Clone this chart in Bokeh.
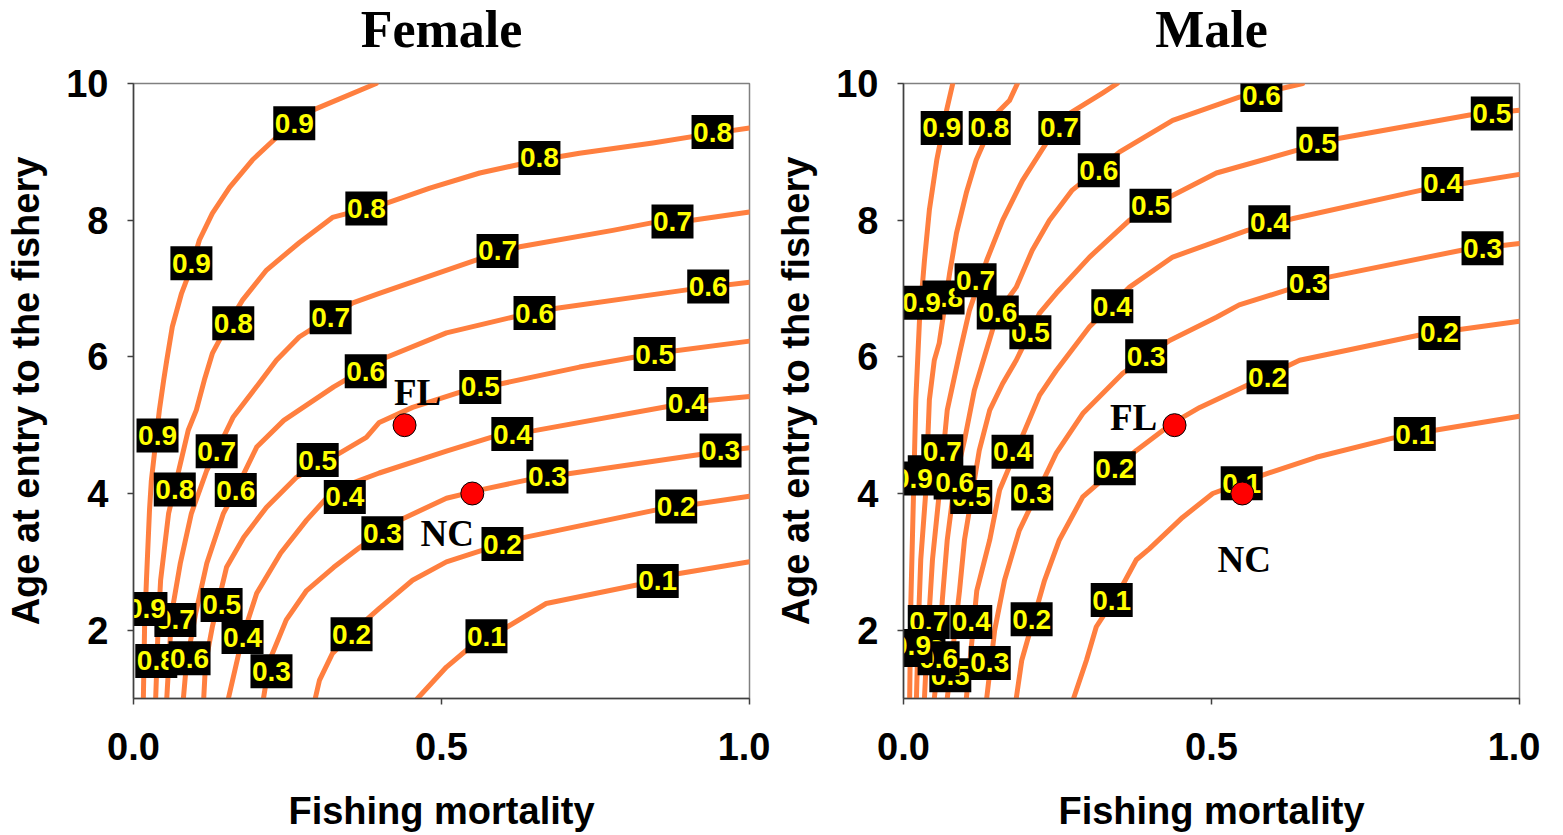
from bokeh.plotting import figure
from bokeh.layouts import row
from bokeh.models import ColumnDataSource, FixedTicker, NumeralTickFormatter, Range1d, Title
from bokeh.core.properties import value
from bokeh.embed import file_html
from bokeh.resources import INLINE

# ---------------- data: Female contour lines (F = fishing mortality, A = age at entry)
female_09_F = [0.394, 0.291, 0.232, 0.193, 0.156, 0.128, 0.107, 0.094, 0.078, 0.063, 0.054, 0.049, 0.042, 0.034, 0.029, 0.026, 0.021, 0.018, 0.016]
female_09_A = [10.0, 9.61, 9.21, 8.88, 8.48, 8.10, 7.71, 7.31, 6.93, 6.44, 5.95, 5.66, 5.22, 4.59, 4.19, 3.76, 2.73, 2.05, 1.0]
female_08_F = [1.0, 0.940, 0.843, 0.724, 0.659, 0.562, 0.481, 0.411, 0.323, 0.269, 0.216, 0.177, 0.151, 0.128, 0.115, 0.102, 0.089, 0.057, 0.044, 0.040, 0.036]
female_08_A = [9.35, 9.27, 9.13, 8.98, 8.88, 8.69, 8.47, 8.25, 8.04, 7.67, 7.27, 6.83, 6.44, 6.05, 5.66, 5.22, 4.93, 3.71, 2.73, 2.05, 1.0]
female_07_F = [1.0, 0.907, 0.841, 0.778, 0.627, 0.557, 0.399, 0.356, 0.269, 0.232, 0.208, 0.162, 0.135, 0.119, 0.094, 0.076, 0.062, 0.054]
female_07_A = [8.12, 8.00, 7.96, 7.85, 7.61, 7.42, 6.93, 6.79, 6.29, 5.95, 5.66, 5.12, 4.62, 4.34, 3.71, 2.98, 2.25, 1.0]
female_06_F = [1.0, 0.933, 0.898, 0.687, 0.615, 0.508, 0.399, 0.325, 0.244, 0.200, 0.166, 0.146, 0.119, 0.101, 0.086, 0.081]
female_06_A = [7.09, 7.02, 6.98, 6.71, 6.58, 6.35, 5.95, 5.56, 5.07, 4.68, 4.05, 3.71, 2.98, 2.25, 1.52, 1.0]
female_05_F = [1.0, 0.846, 0.724, 0.599, 0.529, 0.453, 0.399, 0.378, 0.323, 0.265, 0.216, 0.179, 0.151, 0.128, 0.117, 0.114]
female_05_A = [6.23, 6.05, 5.85, 5.61, 5.48, 5.26, 5.04, 4.82, 4.53, 4.24, 3.80, 3.36, 2.92, 2.05, 1.52, 1.0]
female_04_F = [1.0, 0.932, 0.865, 0.651, 0.583, 0.508, 0.399, 0.325, 0.281, 0.239, 0.200, 0.177, 0.154]
female_04_A = [5.42, 5.36, 5.27, 4.92, 4.83, 4.62, 4.30, 4.05, 3.61, 3.13, 2.54, 1.90, 1.0]
female_03_F = [1.0, 0.964, 0.753, 0.640, 0.567, 0.549, 0.508, 0.432, 0.367, 0.325, 0.281, 0.248, 0.221, 0.211]
female_03_A = [4.67, 4.63, 4.35, 4.20, 4.06, 4.02, 3.93, 3.61, 3.21, 2.92, 2.58, 2.15, 1.56, 1.0]
female_02_F = [1.0, 0.849, 0.631, 0.567, 0.508, 0.453, 0.399, 0.378, 0.323, 0.302, 0.295]
female_02_A = [3.96, 3.76, 3.35, 3.17, 3.00, 2.73, 2.32, 2.15, 1.66, 1.27, 1.0]
female_01_F = [1.0, 0.886, 0.817, 0.670, 0.607, 0.541, 0.508, 0.461]
female_01_A = [3.0, 2.83, 2.66, 2.39, 2.05, 1.71, 1.46, 1.0]

female_label_F = [0.261, 0.094, 0.039, 0.021,
                  0.940, 0.659, 0.378, 0.162, 0.067, 0.037,
                  0.875, 0.591, 0.320, 0.135, 0.068,
                  0.933, 0.651, 0.377, 0.166, 0.091,
                  0.846, 0.563, 0.299, 0.143,
                  0.899, 0.615, 0.343, 0.177,
                  0.953, 0.672, 0.404, 0.224,
                  0.881, 0.599, 0.354,
                  0.851, 0.573]
female_label_A = [9.42, 7.37, 4.85, 2.31,
                  9.29, 8.91, 8.17, 6.49, 4.06, 1.55,
                  7.98, 7.55, 6.58, 4.62, 2.15,
                  7.03, 6.64, 5.79, 4.05, 1.59,
                  6.04, 5.56, 4.49, 2.37,
                  5.31, 4.87, 3.95, 1.90,
                  4.63, 4.25, 3.42, 1.40,
                  3.81, 3.26, 1.94,
                  2.72, 1.91]
female_label_text = ["0.9"] * 4 + ["0.8"] * 6 + ["0.7"] * 5 + ["0.6"] * 5 + ["0.5"] * 4 + \
                    ["0.4"] * 4 + ["0.3"] * 4 + ["0.2"] * 3 + ["0.1"] * 2

# ---------------- data: Male contour lines
male_09_F = [0.080, 0.070, 0.054, 0.042, 0.034, 0.026, 0.020, 0.016, 0.012, 0.010]
male_09_A = [10.0, 9.61, 8.88, 8.15, 7.41, 6.54, 5.37, 3.90, 2.44, 1.0]
male_08_F = [0.185, 0.172, 0.151, 0.118, 0.102, 0.086, 0.075, 0.058, 0.050, 0.042, 0.036, 0.028, 0.024, 0.021]
male_08_A = [10.0, 9.75, 9.56, 8.88, 8.40, 7.81, 7.23, 6.20, 5.95, 5.37, 4.00, 3.03, 2.05, 1.0]
male_07_F = [0.347, 0.323, 0.269, 0.232, 0.193, 0.161, 0.135, 0.107, 0.091, 0.071, 0.058, 0.047, 0.037, 0.034]
male_07_A = [10.0, 9.86, 9.56, 9.13, 8.58, 8.00, 7.41, 6.68, 6.05, 5.22, 4.00, 3.03, 1.56, 1.0]
male_06_F = [0.648, 0.615, 0.545, 0.437, 0.351, 0.274, 0.237, 0.209, 0.183, 0.153, 0.115, 0.099, 0.083, 0.071, 0.063, 0.057, 0.050]
male_06_A = [10.0, 9.93, 9.80, 9.46, 9.00, 8.44, 8.00, 7.56, 7.02, 6.65, 5.51, 4.78, 4.16, 3.32, 2.44, 1.59, 1.0]
male_05_F = [1.0, 0.919, 0.708, 0.638, 0.508, 0.432, 0.367, 0.302, 0.248, 0.221, 0.183, 0.161, 0.140, 0.123, 0.099, 0.091, 0.071]
male_05_A = [9.61, 9.54, 9.20, 9.02, 8.69, 8.34, 8.00, 7.46, 6.93, 6.64, 5.95, 5.61, 5.22, 4.63, 3.32, 2.58, 1.0]
male_04_F = [1.0, 0.911, 0.841, 0.631, 0.558, 0.437, 0.367, 0.302, 0.248, 0.221, 0.156, 0.140, 0.119, 0.102]
male_04_A = [8.67, 8.54, 8.44, 8.02, 7.85, 7.46, 7.02, 6.44, 5.80, 5.44, 4.05, 3.32, 2.58, 1.0]
male_03_F = [1.0, 0.906, 0.692, 0.623, 0.545, 0.508, 0.432, 0.356, 0.291, 0.248, 0.188, 0.164, 0.148, 0.135]
male_03_A = [7.66, 7.56, 7.17, 6.98, 6.76, 6.58, 6.24, 5.76, 5.17, 4.59, 3.46, 2.73, 2.00, 1.0]
male_02_F = [1.0, 0.838, 0.643, 0.557, 0.481, 0.437, 0.378, 0.291, 0.253, 0.229, 0.192, 0.183]
male_02_A = [6.52, 6.32, 5.95, 5.58, 5.26, 5.03, 4.63, 3.95, 3.32, 2.73, 1.56, 1.0]
male_01_F = [1.0, 0.865, 0.794, 0.670, 0.583, 0.502, 0.453, 0.399, 0.378, 0.351, 0.313, 0.297, 0.276]
male_01_A = [5.13, 4.93, 4.81, 4.53, 4.27, 4.00, 3.65, 3.19, 3.03, 2.58, 2.05, 1.56, 1.0]

male_label_F = [0.062, 0.029, 0.016, 0.013,
                0.140, 0.065, 0.041, 0.034,
                0.253, 0.117, 0.063, 0.041,
                0.581, 0.317, 0.153, 0.083, 0.057,
                0.955, 0.672, 0.401, 0.206, 0.110, 0.076,
                0.875, 0.594, 0.339, 0.177, 0.110,
                0.940, 0.657, 0.394, 0.209, 0.140,
                0.870, 0.591, 0.343, 0.208,
                0.830, 0.549, 0.338]
male_label_A = [9.35, 6.79, 4.22, 1.77,
                9.35, 6.87, 4.31, 1.71,
                9.35, 7.12, 4.62, 2.12,
                9.83, 8.73, 6.65, 4.16, 1.59,
                9.56, 9.12, 8.21, 6.36, 3.95, 1.34,
                8.53, 7.97, 6.74, 4.61, 2.12,
                7.59, 7.08, 6.01, 4.00, 1.52,
                6.35, 5.70, 4.37, 2.16,
                4.87, 4.15, 2.44]
male_label_text = ["0.9"] * 4 + ["0.8"] * 4 + ["0.7"] * 4 + ["0.6"] * 5 + ["0.5"] * 6 + \
                  ["0.4"] * 5 + ["0.3"] * 5 + ["0.2"] * 4 + ["0.1"] * 3

# ---------------- data: state points (same in both panels)
state_name = ["FL", "NC"]
state_F = [0.44, 0.55]
state_A = [5.0, 4.0]

x_ticks = [0.0, 0.5, 1.0]
y_ticks = [2, 4, 6, 8, 10]

# ---------------- styling
LINE_COLOR = "#FF7F3F"
LABEL_ORDER = ["0.8", "0.5", "0.7", "0.6", "0.9", "0.4", "0.3", "0.2", "0.1"]
SANS = "Liberation Sans"
SERIF = "Liberation Serif"


def make_panel(title, title_dx, lines, lab_F, lab_A, lab_T, offsets):
    p = figure(frame_width=616, frame_height=615,
               min_border_left=133, min_border_right=21,
               min_border_top=83, min_border_bottom=134,
               x_range=Range1d(0, 1), y_range=Range1d(1, 10),
               output_backend="svg", toolbar_location=None, tools="")

    # spacer between frame and title, then the title itself
    p.add_layout(Title(text=" ", text_font_size="12px", standoff=13), "above")
    p.add_layout(Title(text=title, text_font=SERIF, text_font_style="bold",
                       text_font_size="52px", text_color="black", align="center",
                       offset=title_dx, standoff=-6), "above")

    p.xgrid.visible = False
    p.ygrid.visible = False
    p.outline_line_color = "#808080"
    p.outline_line_width = 1.5
    p.background_fill_color = "white"
    p.border_fill_color = "white"

    for ax in (p.xaxis[0], p.yaxis[0]):
        ax.axis_line_color = "#404040"
        ax.axis_line_width = 1.5
        ax.major_tick_line_color = "#404040"
        ax.major_tick_line_width = 1.5
        ax.major_tick_out = 6
        ax.major_tick_in = 0
        ax.minor_tick_line_color = None
        ax.major_label_text_font = SANS
        ax.major_label_text_font_style = "bold"
        ax.major_label_text_font_size = "38px"
        ax.major_label_text_color = "black"
        ax.axis_label_text_font = SANS
        ax.axis_label_text_font_style = "bold"
        ax.axis_label_text_font_size = "38px"
        ax.axis_label_text_color = "black"

    p.xaxis.ticker = FixedTicker(ticks=x_ticks)
    p.xaxis.formatter = NumeralTickFormatter(format="0.0")
    p.yaxis.ticker = FixedTicker(ticks=y_ticks)
    p.xaxis.axis_label = "Fishing mortality"
    p.yaxis.axis_label = "Age at entry to the fishery"
    p.xaxis.major_label_standoff = 28
    p.xaxis.axis_label_standoff = 27
    p.yaxis.major_label_standoff = 19
    p.yaxis.axis_label_standoff = 16

    for Fs, As in lines:
        p.line(Fs, As, line_color=LINE_COLOR, line_width=5,
               line_cap="round", line_join="round")

    idx = sorted(range(len(lab_T)), key=lambda i: LABEL_ORDER.index(lab_T[i]))
    for i in idx:
        src = ColumnDataSource(dict(x=[lab_F[i]], y=[lab_A[i]], t=[lab_T[i]]))
        p.rect(x="x", y="y", width=42, height=34, width_units="screen",
               height_units="screen", fill_color="black", line_color=None, source=src)
        p.text(x="x", y="y", text="t", source=src, text_color="#FFFF00",
               text_font=value(SANS), text_font_style="bold", text_font_size="28px",
               text_align="center", text_baseline="middle")

    p.scatter(state_F, state_A, size=23, fill_color="#FF0000",
              line_color="black", line_width=1)
    for k in range(len(state_name)):
        dx, dy = offsets[k]
        p.text(x=[state_F[k]], y=[state_A[k]], text=[state_name[k]],
               x_offset=dx, y_offset=dy, text_color="black",
               text_font=value(SERIF), text_font_style="bold", text_font_size="37px",
               text_align="center", text_baseline="middle")
    return p


female_lines = [(female_09_F, female_09_A), (female_08_F, female_08_A),
                (female_07_F, female_07_A), (female_06_F, female_06_A),
                (female_05_F, female_05_A), (female_04_F, female_04_A),
                (female_03_F, female_03_A), (female_02_F, female_02_A),
                (female_01_F, female_01_A)]
male_lines = [(male_09_F, male_09_A), (male_08_F, male_08_A),
              (male_07_F, male_07_A), (male_06_F, male_06_A),
              (male_05_F, male_05_A), (male_04_F, male_04_A),
              (male_03_F, male_03_A), (male_02_F, male_02_A),
              (male_01_F, male_01_A)]

p1 = make_panel("Female", -6, female_lines, female_label_F, female_label_A,
                female_label_text, [(13, -33), (-25, 40)])
p2 = make_panel("Male", 4, male_lines, male_label_F, male_label_A,
                male_label_text, [(-41, -8), (2, 66)])

layout = row(p1, p2)
open("out.html", "w").write(file_html(layout, INLINE))
